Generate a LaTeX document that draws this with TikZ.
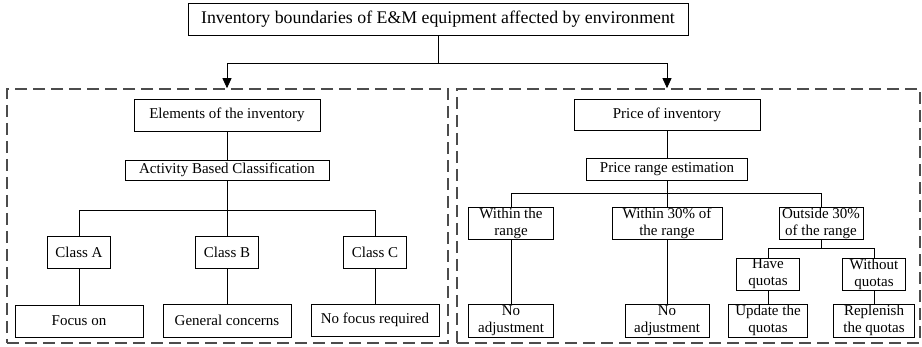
\documentclass[tikz,border=0pt]{standalone}
\usepackage{fontspec}
\setmainfont{Liberation Serif}
\usetikzlibrary{arrows.meta,calc,positioning}

\begin{document}
\begin{tikzpicture}[x=1pt,y=-1pt,
every node/.style={font=\fontsize{15}{17}\selectfont,align=center,inner sep=0pt},
box/.style={draw,line width=0.8pt,fill=white},
region/.style={draw=black!70,line width=1.6pt,dash pattern=on 12pt off 6pt},
link/.style={draw,line width=0.8pt},
arr/.style={link,-{Triangle[length=10pt,width=9pt]}}]
\useasboundingbox (0,0) rectangle (922,347);
\node[region,minimum width=441,minimum height=254] (lbox) at (227.5,216) {};
\node[region,minimum width=463,minimum height=254] (rbox) at (688.5,216) {};
\node[box,minimum width=500,minimum height=32,font=\fontsize{17.8}{20}\selectfont] (top) at (438,19) {Inventory boundaries of E\&M equipment affected by environment};
\node[box,minimum width=186,minimum height=32] (eoi) at (227,115) {Elements of the inventory};
\node[box,minimum width=204,minimum height=20] (abc) at (227,170) {Activity Based Classification};
\node[box,minimum width=63,minimum height=32] (ca) at (79,252) {Class A};
\node[box,minimum width=63,minimum height=32] (cb) at (227,252) {Class B};
\node[box,minimum width=63,minimum height=32] (cc) at (375,252) {Class C};
\node[box,minimum width=128,minimum height=32] (fo) at (79,321) {Focus on};
\node[box,minimum width=128,minimum height=33] (gc) at (227,320.5) {General concerns};
\node[box,minimum width=128,minimum height=32] (nf) at (375,320) {No focus required};
\node[box,minimum width=186,minimum height=31] (poi) at (667,115) {Price of inventory};
\node[box,minimum width=161,minimum height=22] (pre) at (667,169) {Price range estimation};
\node[box,minimum width=85,minimum height=32] (wr) at (511,223) {Within the\\range};
\node[box,minimum width=110,minimum height=32] (w30) at (667,223) {Within 30\% of\\the range};
\node[box,minimum width=84,minimum height=32] (o30) at (821,223) {Outside 30\%\\of the range};
\node[box,minimum width=63,minimum height=32] (hq) at (768,274) {Have\\quotas};
\node[box,minimum width=63,minimum height=32] (wq) at (874,274) {Without\\quotas};
\node[box,minimum width=85,minimum height=33] (na1) at (511,320.5) {No\\adjustment};
\node[box,minimum width=84,minimum height=33] (na2) at (667,320.5) {No\\adjustment};
\node[box,minimum width=79,minimum height=33] (uq) at (768,320.5) {Update the\\quotas};
\node[box,minimum width=81,minimum height=33] (rq) at (874,320.5) {Replenish\\the quotas};
\draw[arr] (top.south) -- ++(0,28) -| (eoi.north |- lbox.north);
\draw[arr] (top.south) -- ++(0,28) -| (poi.north |- rbox.north);
\draw[link] (eoi) -- (abc);
\draw[link] (abc.south) -- ++(0,30) -| (ca.north);
\draw[link] (abc.south) -- (cb.north);
\draw[link] (abc.south) -- ++(0,30) -| (cc.north);
\draw[link] (ca) -- (fo);
\draw[link] (cb) -- (gc);
\draw[link] (cc) -- (nf);
\draw[link] (poi) -- (pre);
\draw[link] (pre.south) -- ++(0,13) -| (wr.north);
\draw[link] (pre.south) -- (w30.north);
\draw[link] (pre.south) -- ++(0,13) -| (o30.north);
\draw[link] (o30.south) -- ++(0,9) -| (hq.north);
\draw[link] (o30.south) -- ++(0,9) -| (wq.north);
\draw[link] (wr) -- (na1);
\draw[link] (w30) -- (na2);
\draw[link] (hq) -- (uq);
\draw[link] (wq) -- (rq);
\end{tikzpicture}
\end{document}
